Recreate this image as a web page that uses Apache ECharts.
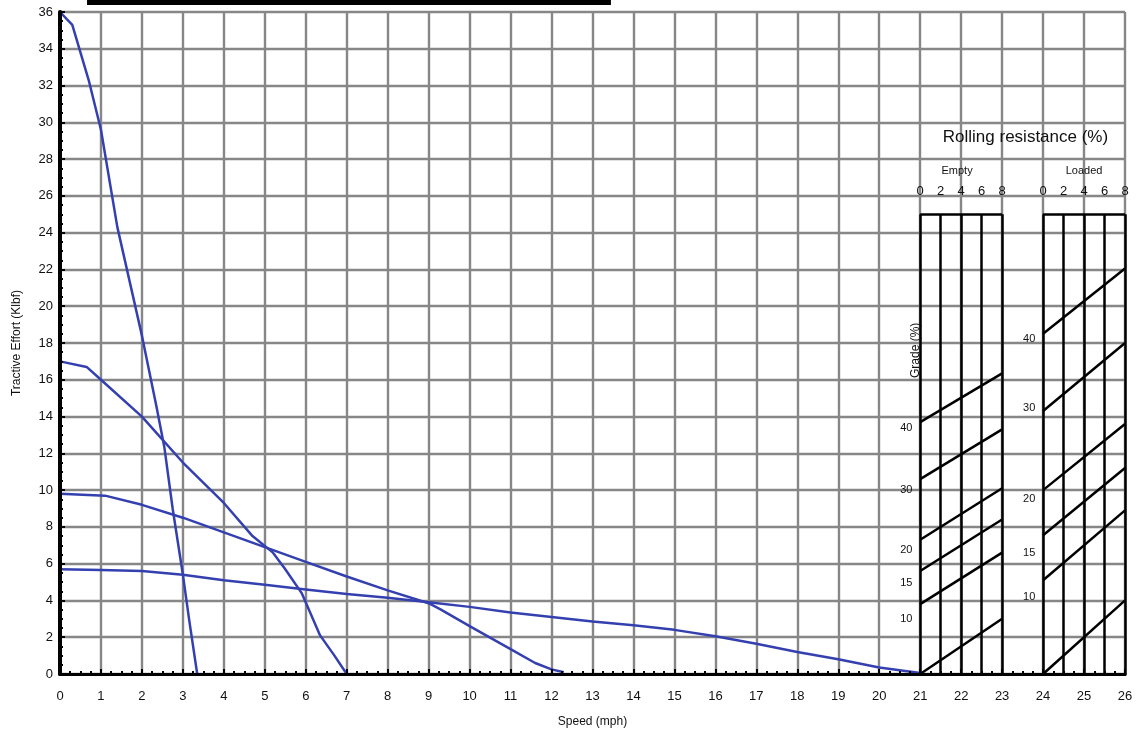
<!DOCTYPE html>
<html><head><meta charset="utf-8">
<script src="https://cdn.jsdelivr.net/npm/echarts@6/dist/echarts.min.js"></script>
<style>html,body{margin:0;padding:0;background:#fff}#c{width:1137px;height:734px}</style>
</head><body><div id="c"></div>
<script>
// Rimpull curves: [speed (mph), tractive effort (klbf)]
const gear1 = [[0,36],[0.3,35.3],[0.7,32.3],[1,29.6],[1.4,24.3],[2,18.4],[2.35,14.6],[2.55,12.3],[2.75,9],[3,5.4],[3.15,3],[3.35,0]];
const gear2 = [[0,17],[0.65,16.7],[1,16],[2,14],[3,11.5],[4,9.3],[4.7,7.5],[5.2,6.6],[5.5,5.7],[5.9,4.4],[6.35,2.1],[6.7,1],[7,0]];
const gear3 = [[0,9.8],[1.1,9.7],[2,9.2],[3,8.5],[4,7.7],[5,6.9],[6,6.1],[7,5.3],[8,4.55],[9,3.85],[9.3,3.5],[10,2.6],[11,1.35],[11.6,0.6],[12,0.25],[12.3,0.1]];
const gear4 = [[0,5.7],[1,5.65],[2,5.6],[3,5.4],[4,5.1],[5,4.85],[6,4.6],[7,4.35],[8,4.15],[9,3.9],[10,3.65],[11,3.35],[12,3.1],[13,2.85],[14,2.65],[15,2.4],[16,2.05],[17,1.65],[18,1.2],[19,0.8],[20,0.35],[21,0.05]];

// Rolling resistance / grade nomograph
const rrTicks = ['0','2','4','6','8'];
const rrMax = 8;
const blockNames = ['Empty','Loaded'];
const blockStart = [21, 24];
const blockWidth = 2;
const blockTop = 25;
const gradeLabels = ['', '10', '15', '20', '30', '40'];
const emptyLeft = [0, 3.8, 5.6, 7.3, 10.6, 13.7];
const emptyRight = [3, 6.6, 8.4, 10.1, 13.3, 16.35];
const emptyLabelY = [null, 3.0, 4.95, 6.75, 10.0, 13.4];
const loadedLeft = [0, 5.1, 7.55, 10.0, 14.3, 18.5];
const loadedRight = [4, 8.9, 11.2, 13.6, 18.0, 22.05];
const loadedLabelY = [null, 4.2, 6.6, 9.5, 14.45, 18.2];
const gradeLabelOffsetX = -0.34;

const FONT = 'Liberation Sans, Arial, Helvetica, sans-serif';
const chart = echarts.init(document.getElementById('c'));

const segs = [];
const texts = [];
const lefts = [emptyLeft, loadedLeft], rights = [emptyRight, loadedRight], labYs = [emptyLabelY, loadedLabelY];
blockStart.forEach((x0, b) => {
  rrTicks.forEach(t => {
    const x = x0 + (+t) / rrMax * blockWidth;
    segs.push({coords: [[x, 0], [x, blockTop]]});
    texts.push({value: [x, 26.25], name: t, fs: 13});
  });
  segs.push({coords: [[x0, blockTop], [x0 + blockWidth, blockTop]]});
  lefts[b].forEach((yl, i) => {
    segs.push({coords: [[x0, yl], [x0 + blockWidth, rights[b][i]]]});
    if (gradeLabels[i]) texts.push({value: [x0 + gradeLabelOffsetX, labYs[b][i]], name: gradeLabels[i], fs: 11});
  });
  texts.push({value: [x0 + blockWidth / 2 - 0.1 + b * 0.1, 27.35], name: blockNames[b], fs: 11});
});
texts.push({value: [23.57, 29.2], name: 'Rolling resistance (%)', fs: 17});
texts.push({value: [20.88, 17.6], name: 'Grade (%)', fs: 12, rot: true});

const curveStyle = {color: '#3540b0', width: 2.5};
const mkCurve = d => ({type: 'line', data: d, symbol: 'none', lineStyle: curveStyle, itemStyle: {color: '#3540b0'}, z: 4, animation: false});

const gridX = {type: 'value', min: 0, max: 26, interval: 1, show: true, position: 'bottom', z: 0,
  axisLine: {show: false}, axisTick: {show: false}, axisLabel: {show: false},
  splitLine: {show: true, lineStyle: {color: '#878787', width: 2.4}}};
const gridY = {type: 'value', min: 0, max: 36, interval: 2, show: true, position: 'left', z: 0,
  axisLine: {show: false}, axisTick: {show: false}, axisLabel: {show: false},
  splitLine: {show: true, lineStyle: {color: '#878787', width: 2.4}}};

const option = {
  backgroundColor: '#fff',
  animation: false,
  grid: {left: 60, right: 12, top: 12, bottom: 60},
  xAxis: [
    {type: 'value', min: 0, max: 26, interval: 1, position: 'bottom', z: 6,
      name: 'Speed (mph)', nameLocation: 'middle', nameGap: 42,
      nameTextStyle: {fontFamily: FONT, fontSize: 12, color: '#111'},
      axisLine: {show: true, lineStyle: {color: '#000', width: 3}},
      axisTick: {show: true, inside: true, length: 5, lineStyle: {color: '#000', width: 2}},
      minorTick: {show: true, splitNumber: 4, length: 3, lineStyle: {color: '#000', width: 2}},
      axisLabel: {margin: 16, fontFamily: FONT, fontSize: 13, color: '#111'},
      splitLine: {show: false}},
    {type: 'value', min: 0, max: 26, position: 'top', z: 6,
      axisLine: {show: true, lineStyle: {color: '#000', width: 3}},
      axisTick: {show: false}, axisLabel: {show: false}, splitLine: {show: false}},
    gridX
  ],
  yAxis: [
    {type: 'value', min: 0, max: 36, interval: 2, position: 'left', z: 6,
      name: 'Tractive Effort (Klbf)', nameLocation: 'middle', nameGap: 37,
      nameTextStyle: {fontFamily: FONT, fontSize: 12, color: '#111'},
      axisLine: {show: true, lineStyle: {color: '#000', width: 3}},
      axisTick: {show: true, inside: true, length: 5, lineStyle: {color: '#000', width: 2}},
      minorTick: {show: true, splitNumber: 4, length: 3, lineStyle: {color: '#000', width: 2}},
      axisLabel: {margin: 7, fontFamily: FONT, fontSize: 13, color: '#111'},
      splitLine: {show: false}},
    {type: 'value', min: 0, max: 36, position: 'right', z: 6,
      axisLine: {show: true, lineStyle: {color: '#000', width: 4}},
      axisTick: {show: false}, axisLabel: {show: false}, splitLine: {show: false}},
    gridY
  ],
  series: [
    mkCurve(gear1), mkCurve(gear2), mkCurve(gear3), mkCurve(gear4),
    {type: 'lines', coordinateSystem: 'cartesian2d', data: segs, z: 5,
      lineStyle: {color: '#000', width: 2.5, opacity: 1}, symbol: 'none', animation: false, silent: true}
  ]
};
chart.setOption(option);

// text annotations and decorative bar, positioned through the axis scales
const toPx = v => chart.convertToPixel({xAxisIndex: 0, yAxisIndex: 0}, v);
const graphics = texts.map(t => {
  const p = toPx(t.value);
  return {type: 'text', x: p[0], y: p[1], rotation: t.rot ? Math.PI / 2 : 0, z: 20, silent: true,
    style: {text: t.name, fill: '#111', font: t.fs + 'px ' + FONT, align: 'center', verticalAlign: 'middle'}};
});
const pA = toPx([0.66, 36]);
const pB = toPx([13.45, 36]);
graphics.push({type: 'rect', shape: {x: pA[0], y: 0, width: pB[0] - pA[0], height: 5}, style: {fill: '#000'}, z: 10});
chart.setOption({graphic: graphics});
</script></body></html>
